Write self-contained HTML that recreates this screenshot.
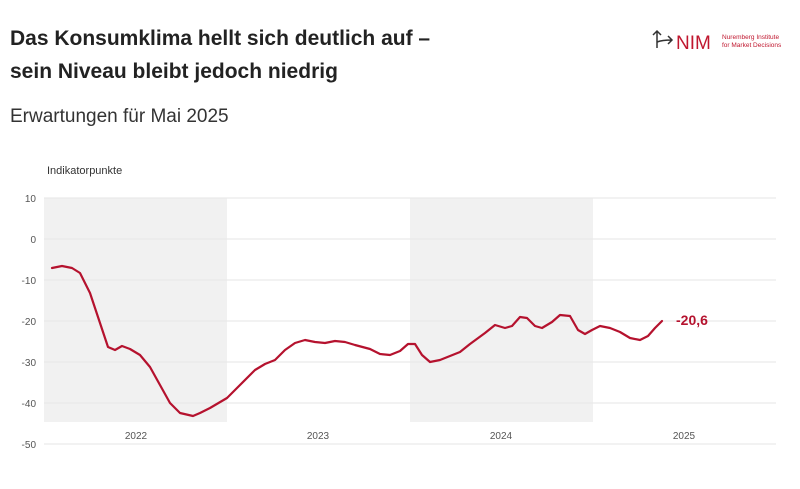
<!DOCTYPE html>
<html><head><meta charset="utf-8"><style>
body{margin:0;width:800px;height:484px;background:#fff;font-family:"Liberation Sans",sans-serif;overflow:hidden}
</style></head><body>
<svg width="800" height="484" xmlns="http://www.w3.org/2000/svg" font-family="Liberation Sans, sans-serif">
<text x="10" y="45" font-size="21" font-weight="bold" fill="#222">Das Konsumklima hellt sich deutlich auf –</text>
<text x="10" y="78" font-size="21" font-weight="bold" fill="#222">sein Niveau bleibt jedoch niedrig</text>
<text x="10" y="122" font-size="19" fill="#333">Erwartungen für Mai 2025</text>
<!-- logo -->
<g stroke="#333" stroke-width="1.5" fill="none">
<path d="M657 48 L657 31 M653 35 L657 31 L661 35"/>
<path d="M657 42 Q662 40 672 40 M668 36 L672 40 L668 44"/>
</g>
<text x="676" y="49" font-size="19" fill="#c0172f">NIM</text>
<text x="722" y="39" font-size="6.5" fill="#c0172f">Nuremberg Institute</text>
<text x="722" y="47" font-size="6.5" fill="#c0172f">for Market Decisions</text>
<text x="47" y="174" font-size="11" fill="#333">Indikatorpunkte</text>
<rect x="44" y="198" width="183" height="224" fill="#f1f1f1"/>
<rect x="410" y="198" width="183" height="224" fill="#f1f1f1"/>
<g stroke="#e6e6e6" stroke-width="1">
<line x1="44" x2="776" y1="198" y2="198"/><line x1="44" x2="776" y1="239" y2="239"/>
<line x1="44" x2="776" y1="280" y2="280"/><line x1="44" x2="776" y1="321" y2="321"/>
<line x1="44" x2="776" y1="362" y2="362"/><line x1="44" x2="776" y1="403" y2="403"/>
<line x1="44" x2="776" y1="444" y2="444"/>
</g>
<g font-size="10" fill="#555" text-anchor="end">
<text x="36" y="202">10</text><text x="36" y="243">0</text><text x="36" y="284">-10</text>
<text x="36" y="325">-20</text><text x="36" y="366">-30</text><text x="36" y="407">-40</text><text x="36" y="448">-50</text>
</g>
<g font-size="10" fill="#555" text-anchor="middle">
<text x="136" y="439">2022</text><text x="318" y="439">2023</text><text x="501" y="439">2024</text><text x="684" y="439">2025</text>
</g>
<polyline fill="none" stroke="#b5122e" stroke-width="2.2" stroke-linejoin="round" stroke-linecap="round"
points="52,268 62,266 72,268 80,273 90,293 100,323 108,347 115,350 122,346 130,349 140,355 150,367 160,385 170,403 180,413 193,416 200,413 210,408 227,398 240,385 255,370 265,364 275,360 285,350 295,343 305,340 315,342 325,343 335,341 345,342 355,345 370,349 380,354 390,355 400,351 408,344 415,344 422,355 430,362 440,360 450,356 460,352 470,344 485,333 495,325 505,328 512,326 520,317 527,318 535,326 542,328 552,322 560,315 570,316 578,330 585,334 592,330 600,326 610,328 620,332 630,338 640,340 648,336 655,328 662,321"/>
<text x="676" y="325" font-size="14" font-weight="bold" fill="#b5122e">-20,6</text>
</svg>
</body></html>
